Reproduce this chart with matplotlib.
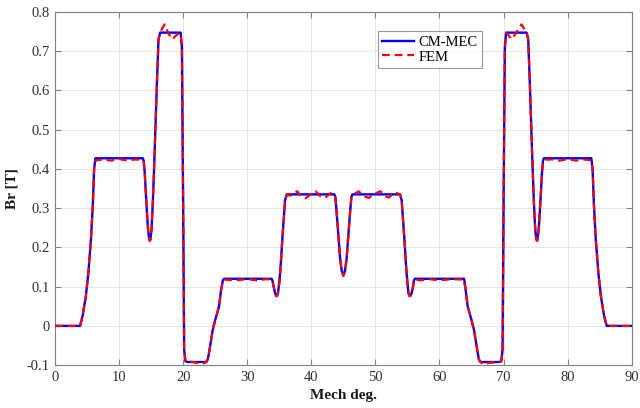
import matplotlib
matplotlib.use("Agg")
import matplotlib.pyplot as plt

plt.rcParams['font.family'] = ['Liberation Serif', 'DejaVu Serif']

# ---- data ----
cm_x = [0, 3.9, 4.3, 4.8, 5.2, 5.6, 5.9, 6.1, 6.3,
        13.7, 13.85, 14.0, 14.2, 14.45, 14.6, 14.75, 14.9, 15.05, 15.25, 15.5, 15.9, 16.15, 16.4,
        19.6, 19.8, 20.0, 20.15, 20.35, 20.7,
        23.6, 23.85, 24.1, 24.6, 25.0, 25.6, 25.9, 26.2, 26.4,
        33.8, 33.95, 34.15, 34.35, 34.5, 34.65, 34.8, 35.0, 35.2, 35.5, 35.9, 36.15,
        43.6, 43.75, 43.95, 44.2, 44.5, 44.75, 45.0, 45.25, 45.5, 45.8, 46.05, 46.25, 46.4,
        53.85, 54.1, 54.5, 54.8, 55.0, 55.15, 55.3, 55.45, 55.65, 55.85, 56.0, 56.15,
        63.85, 64.1, 64.4, 65.0, 65.4, 65.9, 66.15, 66.4,
        69.3, 69.65, 69.85, 70.0, 70.2, 70.4,
        73.6, 73.85, 74.1, 74.5, 74.75, 74.95, 75.1, 75.25, 75.4, 75.55, 75.8, 76.0, 76.15, 76.3,
        83.7, 83.9, 84.1, 84.4, 84.8, 85.2, 85.7, 86.1, 90]
cm_y = [0, 0, 0.025, 0.075, 0.135, 0.22, 0.31, 0.40, 0.427,
        0.427, 0.42, 0.39, 0.33, 0.26, 0.232, 0.219, 0.222, 0.245, 0.31, 0.42, 0.62, 0.73, 0.747,
        0.747, 0.71, 0.30, -0.06, -0.09, -0.092,
        -0.092, -0.085, -0.062, -0.011, 0.015, 0.05, 0.09, 0.117, 0.12,
        0.12, 0.115, 0.098, 0.083, 0.077, 0.077, 0.085, 0.11, 0.15, 0.227, 0.32, 0.335,
        0.335, 0.328, 0.29, 0.235, 0.17, 0.14, 0.129, 0.14, 0.17, 0.235, 0.29, 0.328, 0.335,
        0.335, 0.32, 0.227, 0.15, 0.11, 0.085, 0.077, 0.077, 0.083, 0.098, 0.115, 0.12,
        0.12, 0.09, 0.05, 0.015, -0.011, -0.062, -0.085, -0.092,
        -0.092, -0.09, -0.06, 0.30, 0.71, 0.747,
        0.747, 0.73, 0.62, 0.42, 0.31, 0.245, 0.222, 0.219, 0.232, 0.26, 0.33, 0.39, 0.42, 0.427,
        0.427, 0.40, 0.31, 0.22, 0.135, 0.075, 0.025, 0, 0]

fem_x = [0, 3.9, 4.3, 4.8, 5.2, 5.6, 5.9, 6.1, 6.35,
         7.5, 8.7, 10.0, 11.3, 12.5, 13.6,
         13.85, 14.0, 14.2, 14.45, 14.6, 14.75, 14.9, 15.05, 15.25, 15.5, 15.9, 16.15, 16.4,
         17.1, 17.7, 18.3, 18.9, 19.4, 19.65, 19.8, 20.0, 20.15, 20.35,
         21.5, 22.8, 23.5, 23.85, 24.1, 24.6, 25.0, 25.6, 25.9, 26.2, 26.4,
         28.0, 30.0, 31.5, 33.0, 33.75,
         33.95, 34.15, 34.35, 34.5, 34.65, 34.8, 35.0, 35.2, 35.5, 35.9, 36.15,
         37.0, 37.8, 38.4, 39.1, 40.0, 40.7, 41.4, 42.2, 43.0, 43.6,
         43.75, 43.95, 44.2, 44.5, 44.75, 45.0, 45.25, 45.5, 45.8, 46.05, 46.25, 46.4,
         47.4, 48.2, 49.0, 49.9, 50.8, 51.5, 52.1, 53.0, 53.85,
         54.1, 54.5, 54.8, 55.0, 55.15, 55.3, 55.45, 55.65, 55.85, 56.0, 56.15,
         57.0, 58.5, 60.0, 62.0, 63.8,
         64.1, 64.4, 65.0, 65.4, 65.9, 66.15, 66.4,
         66.8, 67.8, 69.3, 69.65, 69.85, 70.0, 70.2, 70.4,
         70.7, 71.25, 71.9, 72.8, 73.4, 73.65,
         73.85, 74.1, 74.5, 74.75, 74.95, 75.1, 75.25, 75.4, 75.55, 75.8, 76.0, 76.15, 76.35,
         77.5, 78.7, 80.0, 81.3, 82.5, 83.65,
         83.9, 84.1, 84.4, 84.8, 85.2, 85.7, 86.1, 90]
fem_y = [0, 0, 0.025, 0.075, 0.135, 0.22, 0.31, 0.40, 0.422,
         0.424, 0.421, 0.425, 0.421, 0.424, 0.423,
         0.416, 0.388, 0.33, 0.26, 0.23, 0.216, 0.219, 0.243, 0.31, 0.42, 0.62, 0.73, 0.748,
         0.768, 0.745, 0.730, 0.740, 0.746, 0.740, 0.70, 0.30, -0.06, -0.09,
         -0.092, -0.097, -0.093, -0.085, -0.062, -0.011, 0.015, 0.05, 0.09, 0.115, 0.118,
         0.116, 0.119, 0.116, 0.119, 0.118,
         0.113, 0.097, 0.082, 0.076, 0.076, 0.084, 0.11, 0.15, 0.227, 0.32, 0.333,
         0.332, 0.343, 0.330, 0.325, 0.336, 0.343, 0.330, 0.327, 0.338, 0.335,
         0.327, 0.29, 0.235, 0.17, 0.139, 0.127, 0.139, 0.17, 0.235, 0.29, 0.327, 0.333,
         0.343, 0.330, 0.326, 0.337, 0.343, 0.330, 0.327, 0.340, 0.335,
         0.32, 0.227, 0.15, 0.11, 0.084, 0.076, 0.076, 0.082, 0.097, 0.113, 0.118,
         0.116, 0.119, 0.116, 0.119, 0.118,
         0.09, 0.05, 0.015, -0.011, -0.062, -0.085, -0.092,
         -0.098, -0.094, -0.092, -0.09, -0.06, 0.30, 0.70, 0.746,
         0.742, 0.730, 0.745, 0.768, 0.752, 0.745,
         0.73, 0.62, 0.42, 0.31, 0.243, 0.219, 0.216, 0.23, 0.26, 0.33, 0.388, 0.416, 0.423,
         0.424, 0.421, 0.425, 0.421, 0.424, 0.422,
         0.40, 0.31, 0.22, 0.135, 0.075, 0.025, 0, 0]

x_ticks = [0, 10, 20, 30, 40, 50, 60, 70, 80, 90]
y_ticks = [-0.1, 0, 0.1, 0.2, 0.3, 0.4, 0.5, 0.6, 0.7, 0.8]
y_tick_labels = ['-0.1', '0', '0.1', '0.2', '0.3', '0.4', '0.5', '0.6', '0.7', '0.8']
series_names = ['CM-MEC', 'FEM']

# ---- figure ----
fig = plt.figure(figsize=(6.4, 4.08), dpi=100)
ax = fig.add_axes([0.086, 0.105, 0.901, 0.866])

ax.plot(cm_x, cm_y, color='#0000ff', lw=1.7, label=series_names[0], zorder=3,
        solid_joinstyle='round')
ax.plot(fem_x, fem_y, color='#ff0000', lw=1.6, ls=(0, (3.5, 2.2)), label=series_names[1],
        zorder=4, dash_joinstyle='round')

ax.set_xlim(0, 90)
ax.set_ylim(-0.1, 0.8)
ax.set_xticks(x_ticks)
ax.set_xticklabels([str(t) for t in x_ticks])
ax.set_yticks(y_ticks)
ax.set_yticklabels(y_tick_labels)

spine_col = '#808080'
for s in ax.spines.values():
    s.set_color(spine_col)
    s.set_linewidth(0.8)
ax.tick_params(direction='in', top=True, right=True, length=4, width=0.8,
               color=spine_col, labelsize=10.5, labelcolor='#303030', pad=4)
ax.grid(True, color='#e6e6e6', lw=0.7)
ax.set_axisbelow(True)

ax.set_xlabel('Mech deg.', fontsize=11, fontweight='bold', color='#1a1a1a', labelpad=4)
ax.set_ylabel('Br [T]', fontsize=11, fontweight='bold', color='#1a1a1a', labelpad=6)

leg = ax.legend(loc='upper left', bbox_to_anchor=(0.56, 0.945), fontsize=10.5,
                frameon=True, fancybox=False, handlelength=2.2, handletextpad=0.3,
                borderpad=0.3, labelspacing=0.1, borderaxespad=0)
leg.get_frame().set_edgecolor('#808080')
leg.get_frame().set_linewidth(0.8)

fig.savefig('out.png', dpi=100)
